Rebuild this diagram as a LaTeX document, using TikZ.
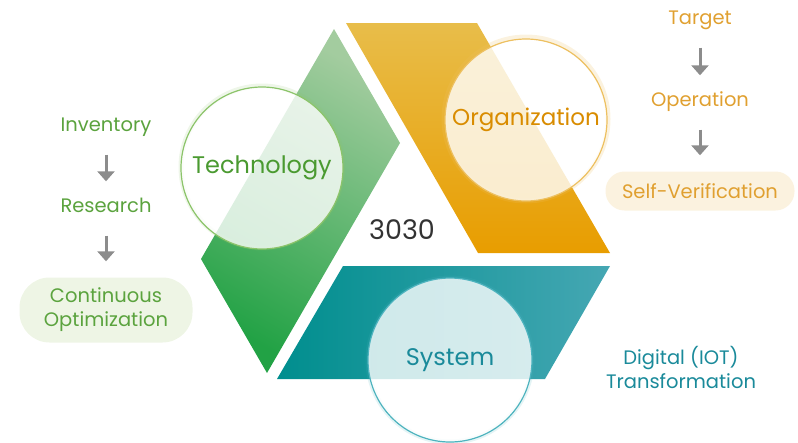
\documentclass[tikz,border=0pt]{standalone}
\usepackage{fontspec}
\setmainfont{Poppins}
\usetikzlibrary{arrows.meta}
\definecolor{techlight}{HTML}{A3CC9F}
\definecolor{techdark}{HTML}{22A245}
\definecolor{orglight}{HTML}{E8BD4A}
\definecolor{orgdark}{HTML}{E89D00}
\definecolor{syslight}{HTML}{45A7B3}
\definecolor{sysdark}{HTML}{008E8E}
\definecolor{techtext}{HTML}{4A9A30}
\definecolor{techring}{HTML}{8CC46A}
\definecolor{orgtext}{HTML}{D98C00}
\definecolor{orgring}{HTML}{EDC060}
\definecolor{systext}{HTML}{1A8A9A}
\definecolor{sysring}{HTML}{4DB3BE}
\definecolor{lefttext}{HTML}{5BA33E}
\definecolor{leftpill}{HTML}{EEF5E5}
\definecolor{righttext}{HTML}{E0A030}
\definecolor{rightpill}{HTML}{FBF2DF}
\definecolor{stepgray}{HTML}{8C8C8C}
\tikzset{
  ring/.style={circle, draw=#1, line width=1.2pt, fill=white, fill opacity=0.8,
    text opacity=1, minimum size=162pt, inner sep=0pt, font=\fontsize{24}{28}\selectfont},
  stepword/.style={font=\fontsize{19.5}{24}\selectfont, text height=15pt, text depth=4pt, inner sep=0pt},
  pill/.style={rounded corners=19pt, inner sep=0pt, align=center, font=\fontsize{19.5}{24}\selectfont},
  downarrow/.style={draw=stepgray, line width=3pt, -{Triangle[width=17pt,length=10pt]},
    shorten <=19pt, shorten >=16pt}
}
\begin{document}
\begin{tikzpicture}[x=1pt, y=-1pt]
  \useasboundingbox (0,0) rectangle (798,442);

  % three bands
  \shade[shading=axis, top color=techlight, bottom color=techdark, shading angle=-30]
    (334,29) -- (400,143) -- (267,373) -- (201,259) -- cycle;
  \shade[top color=orglight, bottom color=orgdark]
    (346,23) -- (477,23) -- (610,253) -- (478,253) -- cycle;
  \shade[left color=sysdark, right color=syslight]
    (343,266) -- (610,266) -- (545,379) -- (277,379) -- cycle;

  % halos round the rings
  \draw[techring, line width=5pt, opacity=0.15] (262,167) circle [radius=81pt];
  \draw[orgring, line width=5pt, opacity=0.2] (526,119) circle [radius=82pt];
  \draw[sysring, line width=5pt, opacity=0.15] (450,360) circle [radius=82pt];

  \node[ring=techring, text=techtext] (tech) at (262,168) {Technology};
  \node[ring=orgring, text=orgtext, font=\fontsize{23}{28}\selectfont] (org) at (526,120) {Organization};
  \node[ring=sysring, text=systext, minimum size=164pt] (sys) at (450,360) {\raisebox{3pt}{System}};
  \node[text=black!80, font=\fontsize{27}{30}\selectfont] (core) at (402,230) {3030};

  % left steps
  \node[stepword, text=lefttext] (inv) at (106,126) {Inventory};
  \node[stepword, text=lefttext] (res) at (106,207) {Research};
  \node[pill, fill=leftpill, text=lefttext, minimum width=173pt, minimum height=65pt,
    rounded corners=30pt] (opt) at (106,310) {Continuous\\Optimization};
  \draw[downarrow] (inv) -- (res);
  \draw[downarrow] (res) -- (opt);

  % right steps
  \node[stepword, text=righttext] (tgt) at (700,19) {Target};
  \node[stepword, text=righttext] (ope) at (700,101) {Operation};
  \node[pill, fill=rightpill, text=righttext, minimum width=189pt, minimum height=39pt]
    (ver) at (700,191) {Self-Verification};
  \draw[downarrow] (tgt) -- (ope);
  \draw[downarrow] (ope) -- (ver);

  \node[align=center, text=systext, font=\fontsize{19.5}{24}\selectfont] (iot) at (681,367)
    {Digital (IOT)\\Transformation};
\end{tikzpicture}
\end{document}
